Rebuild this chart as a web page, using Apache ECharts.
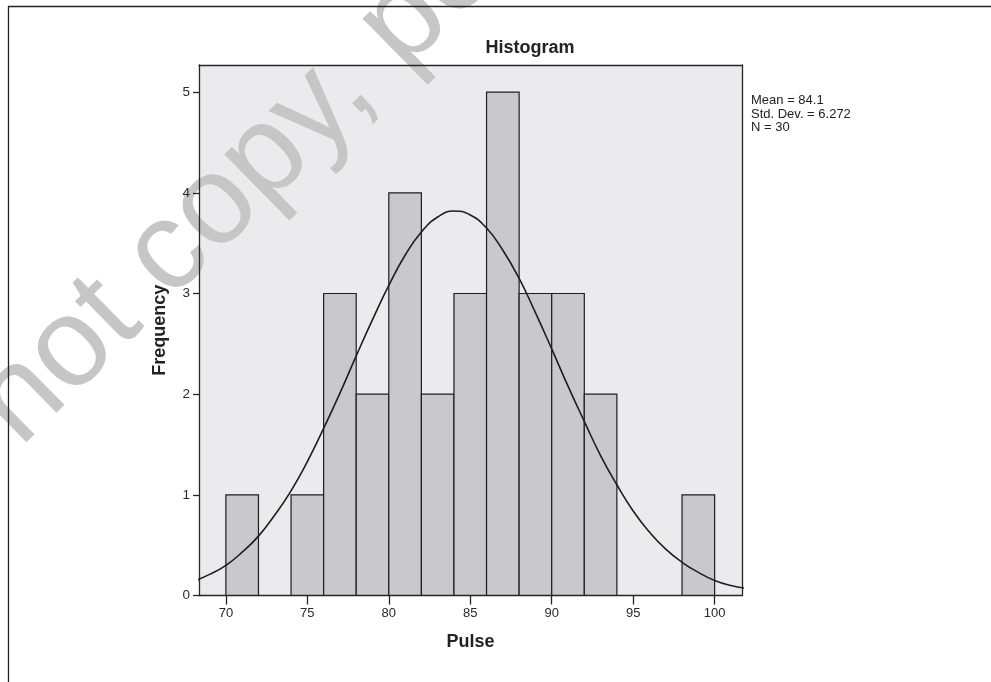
<!DOCTYPE html>
<html>
<head>
<meta charset="utf-8">
<script src="https://cdn.jsdelivr.net/npm/echarts@6/dist/echarts.min.js"></script>
<style>html,body{margin:0;padding:0;background:#fff;}#c{width:991px;height:682px;}</style>
</head>
<body>
<div id="c"></div>
<script>
// Histogram bins (start of bin) and frequencies
var binStarts = [70, 74, 76, 78, 80, 82, 84, 86, 88, 90, 92, 98];
var binCounts = [1, 1, 3, 2, 4, 2, 3, 5, 3, 3, 2, 1];
var binWidth = 2;
// Normal curve (x, frequency)
var curveX = [68, 69, 70, 71, 72, 73, 74, 75, 76, 77, 78, 79, 80, 81, 82, 83, 84, 85, 86, 87, 88, 89, 90, 91, 92, 93, 94, 95, 96, 97, 98, 99, 100, 101, 102];
var curveY = [0.14, 0.21, 0.30, 0.43, 0.59, 0.80, 1.04, 1.33, 1.66, 2.01, 2.38, 2.74, 3.08, 3.38, 3.61, 3.76, 3.82, 3.78, 3.65, 3.43, 3.15, 2.81, 2.45, 2.08, 1.73, 1.39, 1.10, 0.84, 0.63, 0.46, 0.33, 0.23, 0.15, 0.10, 0.07];
var xTicks = [70, 75, 80, 85, 90, 95, 100];
var yTicks = [0, 1, 2, 3, 4, 5];
var statsLines = ['Mean = 84.1', 'Std. Dev. = 6.272', 'N = 30'];
var watermark = 'Do not copy, post, or distribute';

var barData = binStarts.map(function (s, i) { return [s, s + binWidth, binCounts[i]]; });
var curveData = curveX.map(function (x, i) { return [x, curveY[i]]; });

var chart = echarts.init(document.getElementById('c'), null, { renderer: 'canvas' });
var font = '"Liberation Sans", Arial, sans-serif';
var lineCol = '#262626';
var xMin = 68.35, xMax = 101.68, yMin = 0, yMax = 5.27;
function frameAxis(pos, isX) {
  return {
    type: 'value', min: isX ? xMin : yMin, max: isX ? xMax : yMax, position: pos, z: 4,
    axisLine: { show: true, onZero: false, lineStyle: { color: lineCol, width: 1.3 } },
    axisTick: { show: false }, axisLabel: { show: false }, splitLine: { show: false }
  };
}
chart.setOption({
  animation: false,
  backgroundColor: '#ffffff',
  grid: { left: 199, right: 249, top: 65, bottom: 86.5, show: true, backgroundColor: '#ebebed', borderWidth: 0 },
  xAxis: [{
    type: 'value', min: xMin, max: xMax, position: 'bottom', z: 4,
    name: 'Pulse', nameLocation: 'middle', nameGap: 38,
    nameTextStyle: { fontFamily: font, fontWeight: 'bold', fontSize: 18, color: '#222' },
    axisLine: { show: true, onZero: false, lineStyle: { color: lineCol, width: 1.3 } },
    axisTick: { show: true, inside: false, length: 9, customValues: xTicks, lineStyle: { color: lineCol, width: 1.3 } },
    axisLabel: { customValues: xTicks, margin: 11, fontFamily: font, fontSize: 13, color: '#2a2a2a' },
    splitLine: { show: false }
  }, frameAxis('top', true)],
  yAxis: [{
    type: 'value', min: yMin, max: yMax, position: 'left', z: 4,
    name: 'Frequency', nameLocation: 'middle', nameGap: 30, nameRotate: 90,
    nameTextStyle: { fontFamily: font, fontWeight: 'bold', fontSize: 18, color: '#222' },
    axisLine: { show: true, onZero: false, lineStyle: { color: lineCol, width: 1.3 } },
    axisTick: { show: true, inside: false, length: 6, customValues: yTicks, lineStyle: { color: lineCol, width: 1.3 } },
    axisLabel: { customValues: yTicks, margin: 9, fontFamily: font, fontSize: 13.5, color: '#2a2a2a' },
    splitLine: { show: false }
  }, frameAxis('right', false)],
  series: [
    {
      type: 'custom',
      data: barData,
      encode: { x: [0, 1], y: 2 },
      renderItem: function (params, api) {
        var p0 = api.coord([api.value(0), api.value(2)]);
        var p1 = api.coord([api.value(1), 0]);
        return {
          type: 'rect',
          shape: { x: p0[0], y: p0[1], width: p1[0] - p0[0], height: p1[1] - p0[1] },
          style: { fill: '#c9c9cc', stroke: '#1e1e1e', lineWidth: 1.2 }
        };
      },
      z: 2
    },
    {
      type: 'line',
      data: curveData,
      smooth: true,
      showSymbol: false,
      clip: true,
      lineStyle: { color: '#1e1e1e', width: 1.6 },
      z: 3
    }
  ],
  graphic: [
    { type: 'text', x: -144, y: 561, rotation: 44.5 * Math.PI / 180, style: { text: watermark, font: '126px ' + font, fill: '#c6c6c6', textAlign: 'left', textVerticalAlign: 'middle' }, z: 1, silent: true },
    { type: 'rect', shape: { x: 8.5, y: 6.5, width: 1200, height: 900 }, style: { fill: null, stroke: '#222', lineWidth: 1.3 }, z: 10, silent: true },
    { type: 'text', x: 530, y: 48, style: { text: 'Histogram', font: 'bold 18px ' + font, fill: '#222', textAlign: 'center', textVerticalAlign: 'middle' }, z: 10 },
    { type: 'text', x: 751, y: 94, style: { text: statsLines.join('\n'), font: '13px ' + font, lineHeight: 13.5, fill: '#222', textAlign: 'left', textVerticalAlign: 'top' }, z: 10 }
  ]
});
</script>
</body>
</html>
